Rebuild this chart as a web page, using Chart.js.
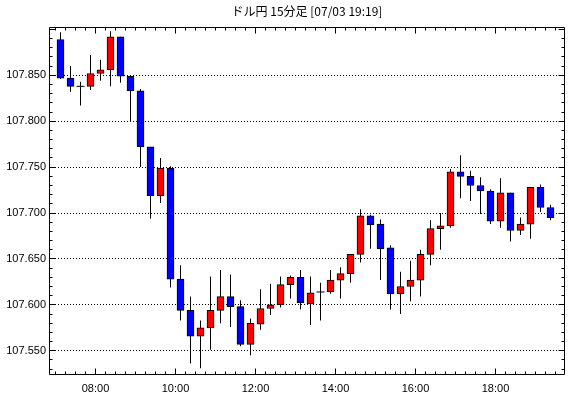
<!DOCTYPE html>
<html>
<head>
<meta charset="utf-8">
<script src="https://cdn.jsdelivr.net/npm/chart.js@4"></script>
<style>
  html, body { margin: 0; padding: 0; background: #fff; }
  #wrap { width: 570px; height: 398px; }
</style>
</head>
<body>
<div id="wrap"><canvas id="candleChart" width="570" height="398"></canvas></div>
<script>
// 15分足 (07:00 - 19:15)
const times = [
    '07:00', '07:15', '07:30', '07:45', '08:00', '08:15', '08:30', '08:45',
    '09:00', '09:15', '09:30', '09:45', '10:00', '10:15', '10:30', '10:45',
    '11:00', '11:15', '11:30', '11:45', '12:00', '12:15', '12:30', '12:45',
    '13:00', '13:15', '13:30', '13:45', '14:00', '14:15', '14:30', '14:45',
    '15:00', '15:15', '15:30', '15:45', '16:00', '16:15', '16:30', '16:45',
    '17:00', '17:15', '17:30', '17:45', '18:00', '18:15', '18:30', '18:45',
    '19:00', '19:15'
];
const opens = [
    107.889, 107.847, 107.838, 107.838, 107.852, 107.856, 107.892, 107.849, 107.833, 107.772,
    107.719, 107.749, 107.628, 107.594, 107.566, 107.575, 107.594, 107.609, 107.598, 107.557,
    107.579, 107.596, 107.600, 107.622, 107.630, 107.601, 107.614, 107.614, 107.627, 107.634,
    107.655, 107.697, 107.688, 107.662, 107.612, 107.620, 107.627, 107.655, 107.683, 107.686,
    107.745, 107.740, 107.730, 107.724, 107.691, 107.722, 107.681, 107.688, 107.728, 107.706
];
const highs = [
    107.897, 107.860, 107.843, 107.872, 107.867, 107.898, 107.892, 107.849, 107.835, 107.772,
    107.760, 107.751, 107.643, 107.609, 107.583, 107.631, 107.638, 107.633, 107.605, 107.585,
    107.617, 107.623, 107.631, 107.632, 107.638, 107.631, 107.624, 107.638, 107.641, 107.655,
    107.704, 107.698, 107.693, 107.665, 107.636, 107.648, 107.660, 107.692, 107.700, 107.748,
    107.763, 107.746, 107.739, 107.726, 107.738, 107.722, 107.695, 107.728, 107.731, 107.709
];
const lows = [
    107.846, 107.832, 107.817, 107.834, 107.844, 107.838, 107.842, 107.800, 107.750, 107.694,
    107.711, 107.619, 107.583, 107.536, 107.531, 107.551, 107.580, 107.576, 107.555, 107.545,
    107.573, 107.589, 107.597, 107.607, 107.595, 107.578, 107.583, 107.612, 107.607, 107.624,
    107.646, 107.661, 107.627, 107.595, 107.590, 107.604, 107.609, 107.643, 107.660, 107.684,
    107.716, 107.713, 107.699, 107.688, 107.684, 107.669, 107.676, 107.672, 107.701, 107.692
];
const closes = [
    107.847, 107.838, 107.838, 107.852, 107.856, 107.892, 107.849, 107.833, 107.772, 107.719,
    107.749, 107.628, 107.594, 107.566, 107.575, 107.594, 107.609, 107.598, 107.557, 107.580,
    107.596, 107.600, 107.622, 107.630, 107.602, 107.613, 107.614, 107.627, 107.634, 107.655,
    107.697, 107.687, 107.661, 107.612, 107.620, 107.627, 107.655, 107.683, 107.686, 107.745,
    107.740, 107.730, 107.724, 107.691, 107.722, 107.681, 107.688, 107.728, 107.706, 107.695
];
const hourTicks = ['08:00', '10:00', '12:00', '14:00', '16:00', '18:00'];
const priceTicks = [107.55, 107.60, 107.65, 107.70, 107.75, 107.80, 107.85];

// x = 足の位置 (07:00 の足が 0〜1)
const slot = i => i + 0.5;
const bodies = times.map((t, i) => ({ x: slot(i), y: [opens[i], closes[i]] }));
const wicks = times.map((t, i) => ({ x: slot(i), y: [lows[i], highs[i]] }));
const dojis = times
    .map((t, i) => (opens[i] === closes[i] ? { x: slot(i), y: opens[i] } : null))
    .filter(p => p);
const bodyColors = times.map((t, i) => (closes[i] >= opens[i] ? '#ff0000' : '#0000ff'));

// 枠と内向きの目盛り
const frameTicks = {
    id: 'frameTicks',
    afterDraw(chart) {
        const { ctx, chartArea: a, scales: { x, y } } = chart;
        const L = Math.round(a.left) + 0.5, R = Math.round(a.right) - 0.5;
        const T = Math.round(a.top) + 0.5, B = Math.round(a.bottom) - 0.5;
        ctx.save();
        ctx.strokeStyle = '#000';
        ctx.lineWidth = 1;
        ctx.beginPath();
        ctx.rect(L, T, R - L, B - T);
        for (let s = Math.ceil(x.min); s <= x.max; s++) {
            const px = Math.floor(x.getPixelForValue(s)) + 0.5;
            const len = hourTicks.includes(times[s]) ? 6 : 3;
            ctx.moveTo(px, T); ctx.lineTo(px, T + len);
            ctx.moveTo(px, B); ctx.lineTo(px, B - len);
        }
        for (let k = Math.ceil(y.min * 100); k <= Math.floor(y.max * 100); k++) {
            const py = Math.floor(y.getPixelForValue(k / 100)) + 0.5;
            const len = k % 5 === 0 ? 6 : 3;
            ctx.moveTo(L, py); ctx.lineTo(L + len, py);
            ctx.moveTo(R, py); ctx.lineTo(R - len, py);
        }
        ctx.stroke();
        ctx.restore();
    }
};

const labelFont = { family: "'Liberation Sans', Arial, sans-serif", size: 11 };

new Chart(document.getElementById('candleChart').getContext('2d'), {
    type: 'bar',
    data: {
        datasets: [
            {
                label: 'body',
                data: bodies,
                backgroundColor: bodyColors,
                borderColor: '#000',
                borderWidth: 1,
                borderSkipped: false,
                barThickness: 7,
                grouped: false,
                order: 0
            },
            {
                label: 'wick',
                data: wicks,
                backgroundColor: '#000',
                borderWidth: 0,
                inflateAmount: 0,
                barThickness: 1,
                grouped: false,
                order: 2
            },
            {
                type: 'scatter',
                label: 'doji',
                data: dojis,
                pointStyle: 'line',
                pointRadius: 4,
                borderColor: '#000',
                borderWidth: 1,
                order: 1
            }
        ]
    },
    plugins: [frameTicks],
    options: {
        responsive: false,
        animation: false,
        layout: { padding: { left: 0, right: 5, top: 0, bottom: 0 } },
        plugins: {
            legend: { display: false },
            tooltip: { enabled: false },
            title: {
                display: true,
                fullSize: false,
                text: 'ドル円 15分足 [07/03 19:19]',
                color: '#000',
                font: { family: "'Noto Sans CJK JP', sans-serif", size: 12, weight: 'normal', lineHeight: 1.2 },
                padding: { top: 4, bottom: 8.6 }
            }
        },
        scales: {
            x: {
                type: 'linear',
                min: -0.65,
                max: 50.95,
                offset: false,
                grid: { display: false, drawTicks: false },
                border: { display: false },
                afterBuildTicks: scale => {
                    scale.ticks = hourTicks.map(h => ({ value: times.indexOf(h) }));
                },
                afterFit: scale => { scale.height = 23; },
                ticks: {
                    autoSkip: false,
                    maxRotation: 0,
                    padding: 7,
                    color: '#000',
                    font: labelFont,
                    callback: v => times[v]
                }
            },
            y: {
                min: 107.5236,
                max: 107.9026,
                grid: {
                    color: '#000',
                    lineWidth: 1,
                    drawTicks: false,
                    tickBorderDash: [1, 2]
                },
                border: { display: false, dash: [1, 2] },
                afterBuildTicks: scale => {
                    scale.ticks = priceTicks.map(v => ({ value: v }));
                },
                afterFit: scale => { scale.width = 49; },
                ticks: {
                    padding: 3,
                    color: '#000',
                    font: labelFont,
                    callback: v => v.toFixed(3)
                }
            }
        }
    }
});
</script>
</body>
</html>
